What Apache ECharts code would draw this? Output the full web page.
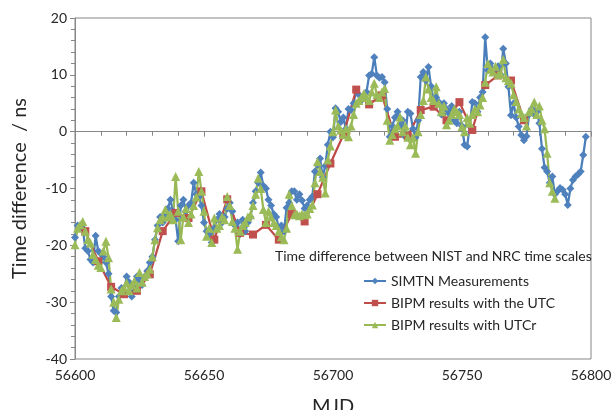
<!DOCTYPE html>
<html>
<head>
<meta charset="utf-8">
<script src="https://cdn.jsdelivr.net/npm/echarts@6/dist/echarts.min.js"></script>
<style>
html,body{margin:0;padding:0;background:#fff;}
#c{width:613px;height:410px;}
</style>
</head>
<body>
<div id="c"></div>
<script>
// ---- Data ----
const simtnMjd = [56600,56601,56602,56603,56604,56605,56606,56607,56608,56609,56610,56611,56612,56613,56614,56615,56616,56617,56618,56619,56620,56621,56622,56623,56624,56625,56626,56627,56628,56629,56630,56631,56632,56633,56634,56635,56636,56637,56638,56639,56640,56641,56642,56643,56644,56645,56646,56647,56648,56649,56650,56651,56652,56653,56654,56655,56656,56657,56658,56659,56660,56661,56662,56663,56664,56665,56666,56667,56668,56669,56670,56671,56672,56673,56674,56675,56676,56677,56678,56679,56680,56681,56682,56683,56684,56685,56686,56687,56688,56689,56690,56691,56692,56693,56694,56695,56696,56697,56698,56699,56700,56701,56702,56703,56704,56705,56706,56707,56708,56709,56710,56711,56712,56713,56714,56715,56716,56717,56718,56719,56720,56721,56722,56723,56724,56725,56726,56727,56728,56729,56730,56731,56732,56733,56734,56735,56736,56737,56738,56739,56740,56741,56742,56743,56744,56745,56746,56747,56748,56749,56750,56751,56752,56753,56754,56755,56756,56757,56758,56759,56760,56761,56762,56763,56764,56765,56766,56767,56768,56769,56770,56771,56772,56773,56774,56775,56776,56777,56778,56779,56780,56781,56782,56783,56784,56785,56786,56787,56788,56789,56790,56791,56792,56793,56794,56795,56796,56797,56798];
const simtnVal = [-18.6,-16.5,-17,-17,-20.5,-21,-22.5,-23,-18.3,-21,-21.5,-22,-23,-25,-29,-31.5,-31.8,-29,-27.5,-28.5,-25.5,-26.5,-29,-27,-25.5,-26,-27,-25.5,-24.5,-23,-22,-19,-16.5,-15,-16,-14.5,-13.5,-12,-14,-15.5,-19.3,-13,-12,-14,-13,-12.5,-9,-11,-11.5,-13,-16,-17.5,-18,-19.5,-17,-15.5,-14.5,-16,-15,-13.5,-12.5,-14,-16.5,-16,-18,-15.5,-17.5,-16,-15,-12.5,-10.5,-9,-7.2,-9.5,-10,-12,-13,-14.5,-15,-17,-16.5,-17.5,-13.4,-12.5,-10.5,-10.5,-12,-11,-12.1,-13.5,-13,-12,-11.4,-7,-5.8,-4.7,-8,-6,-2.3,0,-1,4.1,3.5,1.7,2.5,0.5,4,3.8,5,7.3,6.5,5.5,6,7,9.9,10.2,13.1,9.9,9.5,9.6,8.7,4,-0.9,1,2.5,3.5,1,2,-0.9,3.5,3.2,0.5,-1,2,9.6,10.5,9,11.4,8,5.5,6,5.2,3,5,4,3.2,4.5,2,1.5,3.5,1,-2.3,-2.6,1,5.2,5,3.5,6,7,16.6,10.8,12,11,10.5,11.5,10,14.6,12,7.9,2.9,5,2.5,0.9,-0.6,-1.5,-0.8,3,4,3,3.5,1.5,-3,-6.3,-7,-9,-7.9,-11,-10.5,-9.9,-10.2,-11,-12.9,-10,-8.5,-7.9,-7.5,-7,-4.1,-0.9];

const utcMjd = [56604,56609,56614,56619,56624,56629,56634,56639,56644,56649,56654,56659,56664,56669,56674,56679,56684,56689,56694,56699,56704,56709,56714,56719,56724,56729,56734,56739,56744,56749,56754,56759,56764,56769,56774];
const utcVal = [-17.5,-22.8,-27.3,-28.6,-28.0,-25.1,-17.5,-14.3,-15.2,-10.5,-19.0,-11.9,-17.8,-18.1,-16.4,-19.0,-14.5,-15.8,-11.0,-5.6,-0.6,7.4,4.8,6.4,-0.9,-0.8,3.8,4.4,2.0,5.2,0.3,8.2,9.9,9.0,2.0];

const utcrMjd = [56600,56601,56602,56603,56604,56605,56606,56607,56608,56609,56610,56611,56612,56613,56614,56615,56616,56617,56618,56619,56620,56621,56622,56623,56624,56625,56626,56627,56628,56629,56630,56631,56632,56633,56634,56635,56636,56637,56638,56639,56640,56641,56642,56643,56644,56645,56646,56647,56648,56649,56650,56651,56652,56653,56654,56655,56656,56657,56658,56659,56660,56661,56662,56663,56664,56665,56666,56667,56668,56669,56670,56671,56672,56673,56674,56675,56676,56677,56678,56679,56680,56681,56682,56683,56684,56685,56686,56687,56688,56689,56690,56691,56692,56693,56694,56695,56696,56697,56698,56699,56700,56701,56702,56703,56704,56705,56706,56707,56708,56709,56710,56711,56712,56713,56714,56715,56716,56717,56718,56719,56720,56721,56722,56723,56724,56725,56726,56727,56728,56729,56730,56731,56732,56733,56734,56735,56736,56737,56738,56739,56740,56741,56742,56743,56744,56745,56746,56747,56748,56749,56750,56751,56752,56753,56754,56755,56756,56757,56758,56759,56760,56761,56762,56763,56764,56765,56766,56767,56768,56769,56770,56771,56772,56773,56774,56775,56776,56777,56778,56779,56780,56781,56782,56783,56784,56785,56786];
const utcrVal = [-19.9,-17,-16.4,-15.8,-17.5,-19,-19.6,-21.6,-22.5,-23.5,-23.9,-21,-19.3,-22.2,-27.7,-30,-32.7,-29.5,-28,-27.5,-26.6,-28,-27,-26.3,-27.5,-24.8,-26.5,-25.5,-25,-24.2,-22,-19,-16.9,-15.5,-15,-13.7,-15,-14.5,-15.5,-7.9,-14,-19,-15,-13.5,-16,-14.5,-13,-11.5,-7,-10.5,-14,-18.4,-17,-19.5,-15.2,-17,-16.5,-15,-15.5,-11.4,-13,-15.8,-17,-20.7,-17.5,-16.5,-16,-15,-14.6,-13,-11,-8.2,-10,-13.7,-16,-14,-15,-16,-16.5,-17.5,-18.5,-19,-17,-11,-13,-14.6,-14.5,-14.8,-14.5,-14.6,-14.5,-13.5,-12.9,-9,-5.3,-7,-8,-10.8,-5,-2.5,0,3.8,1,0.3,-0.5,0.5,-0.9,1,3,5,5.5,6,6.7,6,5.5,7,8.5,6.5,6,7,7.6,2,-1.5,-0.5,0.5,1,2.6,0,1,-1,-2.3,-1,-3.8,0,3,5.5,9.6,7.5,6,5.5,7.9,5,3.5,4.5,1.2,2,3,4,3.5,3,0.9,0,2.5,1.5,3,4,3.5,4.7,6,8.7,12,11,10.5,11.5,10,10.2,12.7,9.5,9,8.5,6.5,5.3,4,3.2,2.5,1,3.5,4,5.2,3,4.5,2,0.5,-3.8,-9,-10.5,-11.7];

const seriesNames = ['SIMTN Measurements','BIPM results with the UTC','BIPM results with UTCr'];
const legendTitle = 'Time difference between NIST and NRC time scales';
const xTitle = 'MJD';
const yTitle = 'Time difference  / ns';

function pairs(xs, ys){ return xs.map((x,i)=>[x, ys[i]]); }

const FONT = 'Lato, "Open Sans", sans-serif';
const axisGray = '#868686';
const chart = echarts.init(document.getElementById('c'), null, {renderer:'canvas'});
chart.setOption({
  animation:false,
  backgroundColor:'#fff',
  textStyle:{fontFamily:FONT},
  grid:{left:75, right:22, top:18, bottom:51, containLabel:false, outerBoundsMode:'none',
        show:true, borderColor:axisGray, borderWidth:1},
  xAxis:{
    type:'value', min:56600, max:56800, interval:50,
    name:xTitle, nameLocation:'middle', nameGap:38,
    nameTextStyle:{fontSize:20, color:'#262626', fontFamily:FONT},
    axisLine:{show:true, lineStyle:{color:axisGray, width:1}},
    axisTick:{show:true, length:5, lineStyle:{color:axisGray}},
    minorTick:{show:true, splitNumber:5, length:4, lineStyle:{color:axisGray}},
    axisLabel:{fontSize:14, color:'#262626', margin:9, fontFamily:FONT,
               formatter:function(v){return String(v);}},
    splitLine:{show:false}
  },
  yAxis:{
    type:'value', min:-40, max:20, interval:10,
    name:yTitle, nameLocation:'middle', nameGap:45, nameRotate:90,
    nameTextStyle:{fontSize:20, color:'#262626', fontFamily:FONT},
    axisLine:{show:true, lineStyle:{color:axisGray, width:1}},
    axisTick:{show:true, length:5, lineStyle:{color:axisGray}},
    minorTick:{show:true, splitNumber:5, length:4, lineStyle:{color:axisGray}},
    axisLabel:{fontSize:14, color:'#262626', margin:8, fontFamily:FONT},
    splitLine:{show:false}
  },
  legend:{
    orient:'vertical', left:358, top:269, itemGap:8,
    itemWidth:22, itemHeight:8,
    textStyle:{fontSize:14, color:'#262626', fontFamily:FONT},
    data:seriesNames
  },
  graphic:[{
    type:'text', left:275, top:249,
    style:{text:legendTitle, font:'14px '+FONT, fill:'#262626'}
  }],
  series:[
    {name:seriesNames[0], type:'line', data:pairs(simtnMjd, simtnVal),
     symbol:'diamond', symbolSize:8, showAllSymbol:true,
     lineStyle:{color:'#4A7EBB', width:2.25}, itemStyle:{color:'#4F81BD'}},
    {name:seriesNames[1], type:'line', data:pairs(utcMjd, utcVal),
     symbol:'rect', symbolSize:8, showAllSymbol:true,
     lineStyle:{color:'#BE4B48', width:2.25}, itemStyle:{color:'#C0504D'}},
    {name:seriesNames[2], type:'line', data:pairs(utcrMjd, utcrVal),
     symbol:'triangle', symbolSize:9, showAllSymbol:true,
     lineStyle:{color:'#98B954', width:2.25}, itemStyle:{color:'#9BBB59'}}
  ]
});
</script>
</body>
</html>
